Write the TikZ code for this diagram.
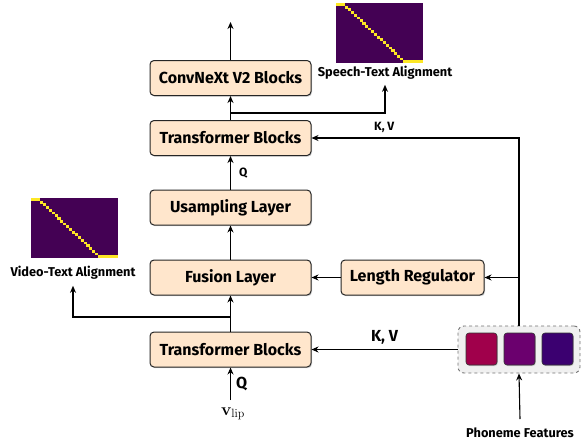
\documentclass[tikz,border=0pt]{standalone}
\usepackage[no-math]{fontspec}
\setmainfont{Fira Sans}
\usetikzlibrary{shadows,arrows.meta}
\definecolor{peach}{HTML}{FFE6CC}
\definecolor{vpurple}{HTML}{440154}
\definecolor{vyellow}{HTML}{FDE725}
\definecolor{phA}{HTML}{A0004B}
\definecolor{phB}{HTML}{6B006E}
\definecolor{phC}{HTML}{3B0070}
\newcommand\heatmapat[2]{%
  \fill[vpurple] (#1,#2) rectangle ++(87,60);
  \fill[vyellow] (#1,#2) rectangle ++(9,2.7);
  \foreach \i in {0,...,19}{\fill[vyellow] ({#1+9+\i*2.9},{#2+2.7+\i*2.73}) rectangle ++(3.1,2.8);}
  \fill[vyellow] ({#1+67},{#2+57.2}) rectangle ++(20,2.8);
}
\begin{document}
\begin{tikzpicture}[x=1pt,y=-1pt,
  blk/.style={draw=black!85, line width=1pt, rounded corners=4pt, fill=peach,
    minimum width=161pt, minimum height=35pt, inner sep=0pt,
    font=\fontsize{16}{18}\selectfont\bfseries,
    drop shadow={shadow xshift=1pt, shadow yshift=-1.2pt, opacity=0.35}},
  sq/.style={draw=black!80, line width=0.6pt, rounded corners=3pt, minimum width=31pt, minimum height=32pt,
    drop shadow={shadow xshift=0.8pt, shadow yshift=-1pt, opacity=0.35}},
  arr/.style={-{Stealth[length=7pt,width=6pt]}, line width=1.1pt},
  lab/.style={font=\fontsize{12.8}{14}\selectfont\bfseries, inner sep=0pt},
  qs/.style={font=\fontsize{12}{14}\selectfont\bfseries, inner sep=0pt},
  kv/.style={font=\fontsize{16}{18}\selectfont\bfseries, inner sep=0pt}]
\useasboundingbox (0,0) rectangle (581,442);
\heatmapat{336}{3}
\heatmapat{31}{198}
\node[blk] (conv) at (230.5,78) {ConvNeXt V2 Blocks};
\node[blk] (tf2) at (230.5,138) {Transformer Blocks};
\node[blk] (ups) at (230.5,207.5) {Usampling Layer};
\node[blk] (fus) at (230.5,277.5) {Fusion Layer};
\node[blk] (tf1) at (230.5,349.5) {Transformer Blocks};
\node[blk, minimum width=143pt] (lr) at (412.5,277.5) {Length Regulator};
\node[draw=black!55, dashed, line width=0.9pt, rounded corners=6pt, fill=black!6,
  minimum width=122pt, minimum height=47pt] (phon) at (519,349.5) {};
\node[sq, fill=phA] (p1) at (481.5,349) {};
\node[sq, fill=phB] (p2) at (519.5,349) {};
\node[sq, fill=phC] (p3) at (557.5,349) {};
\node[lab] (stl) at (385,73) {Speech-Text Alignment};
\node[lab] (vtl) at (73,273) {Video-Text Alignment};
\node[lab] (pfl) at (520,433) {Phoneme Features};
\node[inner sep=0pt, font=\fontsize{17}{19}\selectfont] (vlip) at (233,414) {$\mathbf{v}_{\mathrm{lip}}$};
\coordinate (top) at (230.5,22);
\coordinate (br2) at (230.5,113);
\coordinate (br1) at (230.5,317);
\coordinate (vin) at (230.5,400);
\coordinate (pin) at (520,419);
\draw[arr] (conv.north) -- (top);
\draw[arr] (tf2.north) -- (conv.south);
\draw[arr] (br2) -| ([yshift=-5pt]stl.south);
\draw[arr] (ups.north) -- node[qs, right=8pt]{Q} (tf2.south);
\draw[arr] (fus.north) -- (ups.south);
\draw[arr] (tf1.north) -- (fus.south);
\draw[arr] (br1) -| ([yshift=-6pt]vtl.south);
\draw[arr] (lr.west) -- (fus.east);
\draw[arr] (phon.north) |- (tf2.east) node[qs, pos=0.75, above=5pt, xshift=-31pt]{K, V};
\draw[arr] (phon.north |- lr.east) -- (lr.east);
\draw[arr] (phon.west) -- node[kv, above=5pt]{K, V} (tf1.east);
\draw[arr] (pin) -- (phon.south);
\draw[arr] (vin) -- node[kv, right=5pt]{Q} (tf1.south);
\end{tikzpicture}
\end{document}
